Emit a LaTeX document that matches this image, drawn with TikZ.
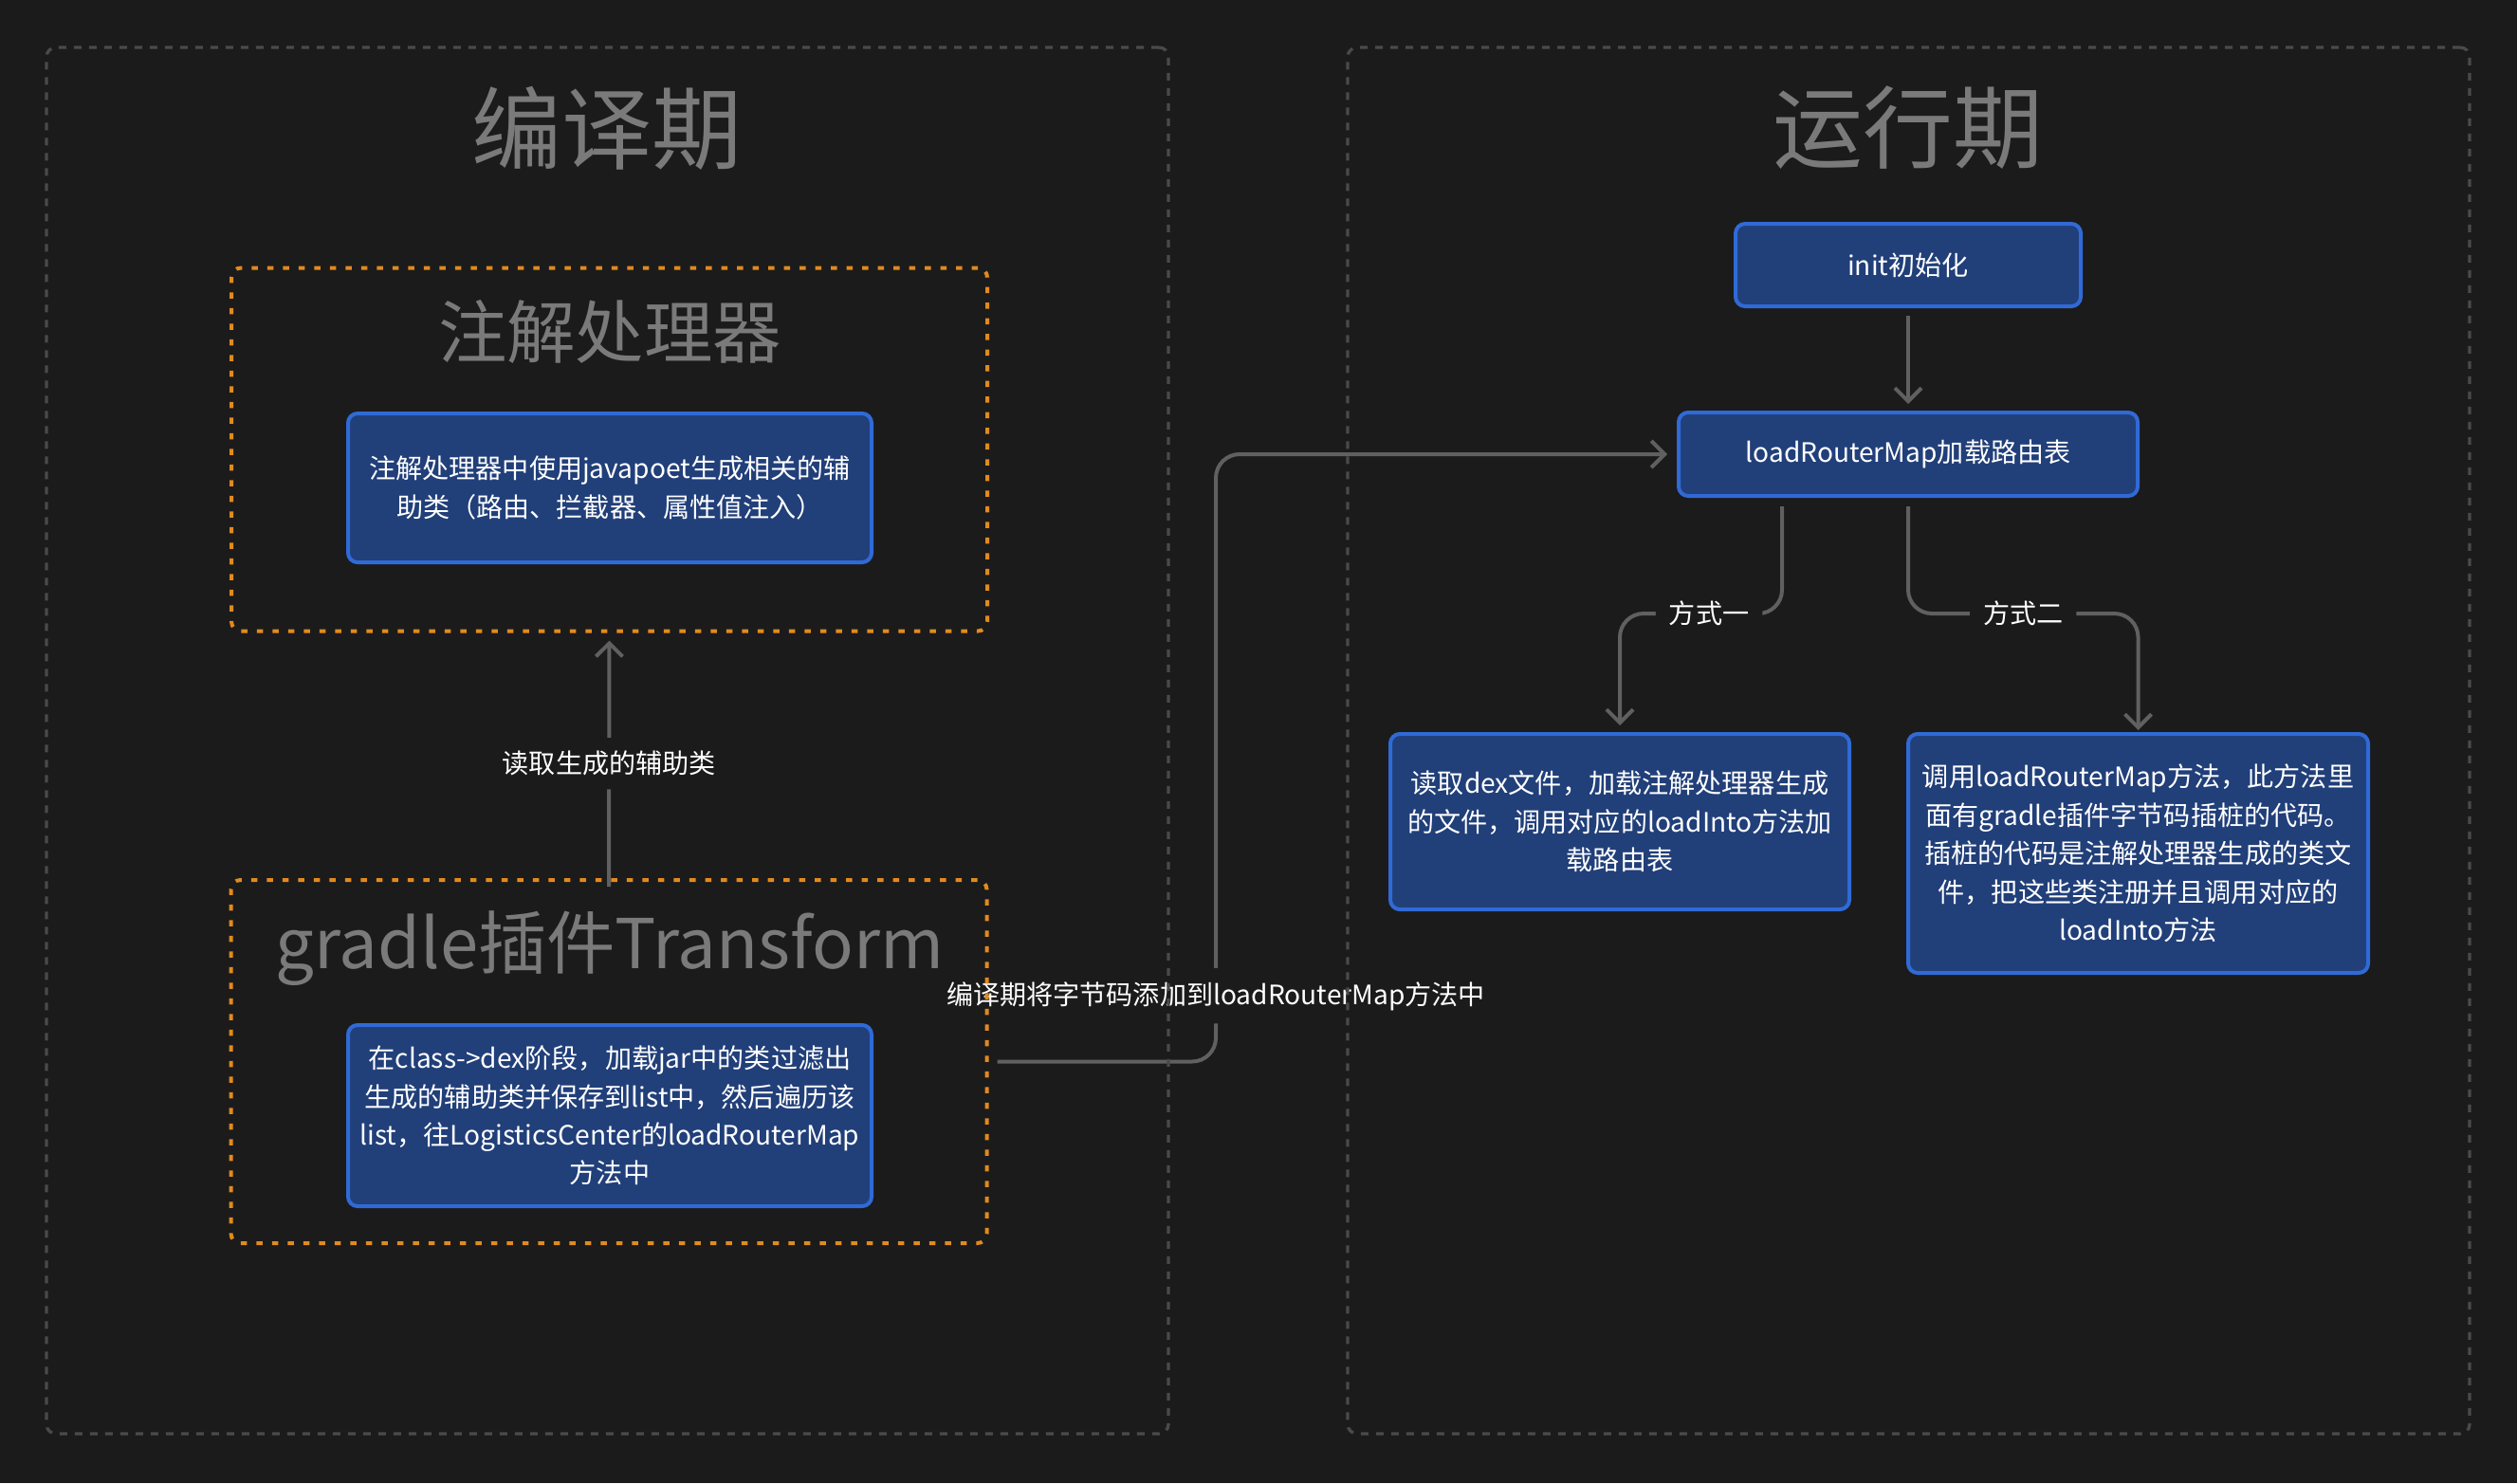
\documentclass[tikz,border=0pt]{standalone}
\usepackage{fontspec}
\setmainfont{Noto Sans CJK SC}
\usepackage{tikz}
\usetikzlibrary{arrows.meta,positioning,backgrounds,calc}

\definecolor{bgdark}{RGB}{27,27,27}
\definecolor{boxblue}{RGB}{33,63,121}
\definecolor{boxedge}{RGB}{48,106,214}
\definecolor{grporange}{RGB}{226,138,30}
\definecolor{linegrey}{RGB}{96,96,96}
\definecolor{framegrey}{RGB}{74,74,74}
\definecolor{titlegrey}{RGB}{122,122,122}

\begin{document}
\begin{tikzpicture}[text=white,
	>={Straight Barb[length=1.4mm,width=2.8mm]},
	stepbox/.style={draw=boxedge, fill=boxblue, line width=0.04cm, rounded corners=0.1cm, align=center, inner sep=0pt, font=\fontsize{8pt}{11.5pt}\selectfont},
	grp/.style={draw=grporange, line width=0.04cm, dash pattern=on 0.065cm off 0.1cm, rounded corners=0.1cm, minimum width=7.97cm, minimum height=3.83cm, inner sep=0pt},
	phase/.style={draw=framegrey, line width=0.033cm, dash pattern=on 0.08cm off 0.08cm, rounded corners=0.1cm, minimum width=11.83cm, minimum height=14.62cm, inner sep=0pt},
	conn/.style={draw=linegrey, line width=0.04cm, rounded corners=0.25cm},
	lbl/.style={fill=bgdark, inner sep=0.14cm, font=\fontsize{8pt}{11.5pt}\selectfont},
	bigtitle/.style={text=titlegrey, font=\fontsize{27pt}{32pt}\selectfont},
	grptitle/.style={text=titlegrey, font=\fontsize{20.6pt}{24pt}\selectfont}]
\def \leftmid {6.43}
\def \rightmid {20.12}

\useasboundingbox (0,0) rectangle (26.54,-15.64);

%Compile phase
\node[phase] (compile) at (6.405,-7.81) {};
\node[bigtitle] (compiletitle) at (6.40,-1.35) {编译期};

\node[grp] (aptgrp) at (6.425,-4.74) {};
\node[grptitle] (apttitle) at (\leftmid,-3.50) {注解处理器};
\node[stepbox, minimum width=5.52cm, minimum height=1.57cm] (aptbox) at (\leftmid,-5.145) {注解处理器中使用javapoet生成相关的辅\\助类（路由、拦截器、属性值注入）};

\node[grp] (gradlegrp) at (6.42,-11.195) {};
\node[grptitle] (gradletitle) at (\leftmid,-10.00) {gradle插件Transform};
\node[stepbox, minimum width=5.52cm, minimum height=1.91cm] (gradlebox) at (\leftmid,-11.765) {在class->dex阶段，加载jar中的类过滤出\\生成的辅助类并保存到list中，然后遍历该\\list，往LogisticsCenter的loadRouterMap\\方法中};

%Runtime phase
\node[phase] (runtime) at (20.125,-7.81) {};
\node[bigtitle] (runtimetitle) at (\rightmid,-1.35) {运行期};

\node[stepbox, minimum width=3.64cm, minimum height=0.87cm] (init) at (\rightmid,-2.795) {init初始化};
\node[stepbox, minimum width=4.84cm, minimum height=0.88cm] (loadmap) at (\rightmid,-4.79) {loadRouterMap加载路由表};
\node[stepbox, minimum width=4.84cm, minimum height=1.85cm] (dexway) at (17.08,-8.665) {读取dex文件，加载注解处理器生成\\的文件，调用对应的loadInto方法加\\载路由表};
\node[stepbox, minimum width=4.85cm, minimum height=2.52cm] (asmway) at (22.545,-9.00) {调用loadRouterMap方法，此方法里\\面有gradle插件字节码插桩的代码。\\插桩的代码是注解处理器生成的类文\\件，把这些类注册并且调用对应的\\loadInto方法};

\coordinate (busx) at (12.82,0);
\coordinate (wayone) at ([xshift=-1.33cm,yshift=-0.09cm]loadmap.south);

%Connectors behind the frames
\begin{scope}[on background layer]
\fill[bgdark] (0,0) rectangle (26.54,-15.64);
\draw[conn, ->] ([yshift=-0.09cm]gradlegrp.north) -- node[lbl, pos=0.5] {读取生成的辅助类} ([yshift=-0.08cm]aptgrp.south);
\draw[conn, ->] ([xshift=0.09cm]gradlegrp.east) -| node[lbl, pos=0.554] {编译期将字节码添加到loadRouterMap方法中} (busx |- loadmap.west) -- ([xshift=-0.1cm]loadmap.west);
\draw[conn, ->] ([yshift=-0.08cm]init.south) -- ([yshift=0.07cm]loadmap.north);
\draw[conn, ->] (wayone) |- node[lbl, pos=0.725] {方式一} ([yshift=1.25cm]dexway.north) -- ([yshift=0.07cm]dexway.north);
\draw[conn, ->] ([yshift=-0.09cm]loadmap.south) |- node[lbl, pos=0.75] {方式二} ([yshift=1.25cm]asmway.north) -- ([yshift=0.02cm]asmway.north);
\end{scope}

\end{tikzpicture}
\end{document}
